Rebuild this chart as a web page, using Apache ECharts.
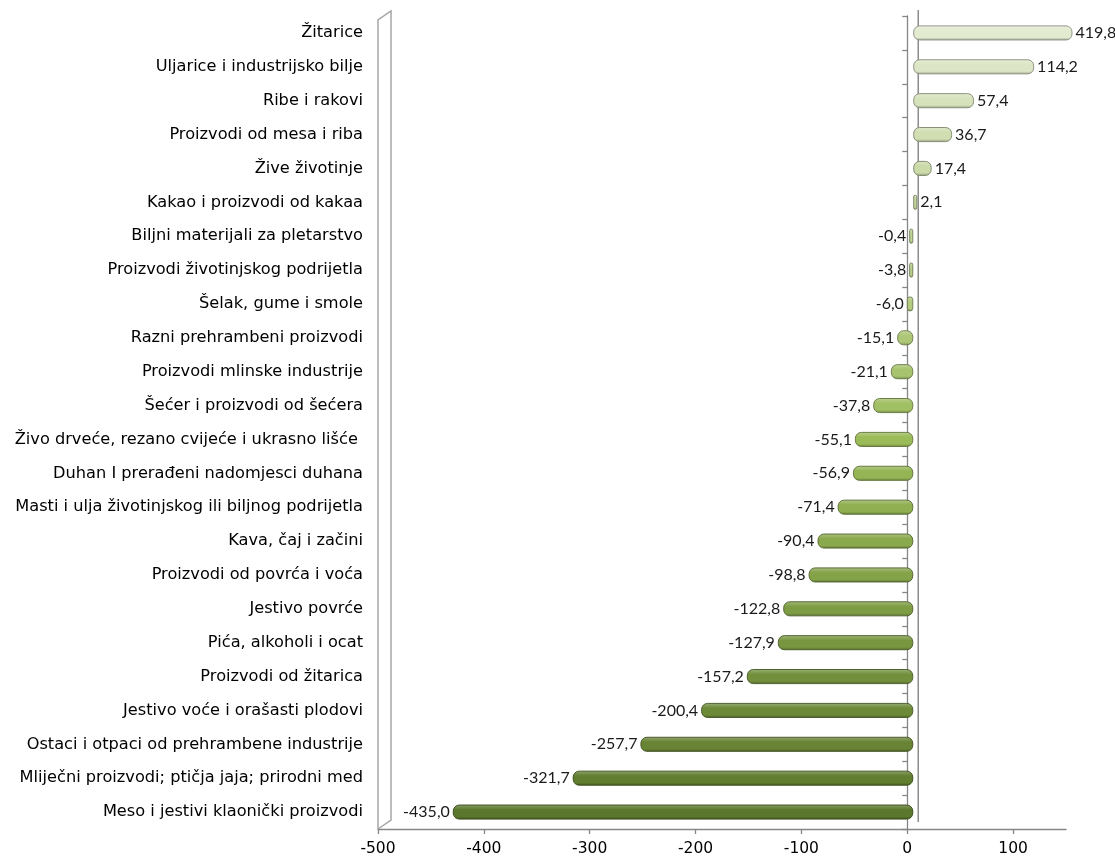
<!DOCTYPE html>
<html>
<head>
<meta charset="utf-8">
<script src="https://cdn.jsdelivr.net/npm/echarts@6/dist/echarts.min.js"></script>
<style>
  html, body { margin: 0; padding: 0; background: #ffffff; }
  #chart { width: 1115px; height: 859px; }
</style>
</head>
<body>
<div id="chart"></div>
<script>
// Trade balance by product group (top to bottom)
const categories = [
  'Žitarice',
  'Uljarice i industrijsko bilje',
  'Ribe i rakovi',
  'Proizvodi od mesa i riba',
  'Žive životinje',
  'Kakao i proizvodi od kakaa',
  'Biljni materijali za pletarstvo',
  'Proizvodi životinjskog podrijetla',
  'Šelak, gume i smole',
  'Razni prehrambeni proizvodi',
  'Proizvodi mlinske industrije',
  'Šećer i proizvodi od šećera',
  'Živo drveće, rezano cvijeće i ukrasno lišće ',
  'Duhan I prerađeni nadomjesci duhana',
  'Masti i ulja životinjskog ili biljnog podrijetla',
  'Kava, čaj i začini',
  'Proizvodi od povrća i voća',
  'Jestivo povrće',
  'Pića, alkoholi i ocat',
  'Proizvodi od žitarica',
  'Jestivo voće i orašasti plodovi',
  'Ostaci i otpaci od prehrambene industrije',
  'Mliječni proizvodi; ptičja jaja; prirodni med',
  'Meso i jestivi klaonički proizvodi'
];
const values = [
  419.8, 114.2, 57.4, 36.7, 17.4, 2.1, -0.4, -3.8, -6.0, -15.1, -21.1, -37.8,
  -55.1, -56.9, -71.4, -90.4, -98.8, -122.8, -127.9, -157.2, -200.4, -257.7,
  -321.7, -435.0
];
const xTicks = [-500, -400, -300, -200, -100, 0, 100];

// Shade ramp: pale green at the top, olive at the bottom
const LIGHT = '#e2ead0', MID = '#9bbb59', DARK = '#5b772b';
function hexToRgb(h) {
  const n = parseInt(h.slice(1), 16);
  return [(n >> 16) & 255, (n >> 8) & 255, n & 255];
}
function mix(a, b, t) {
  const A = hexToRgb(a), B = hexToRgb(b);
  const c = A.map((v, i) => Math.round(v + (B[i] - v) * t));
  return 'rgb(' + c.join(',') + ')';
}
function shade(rgb, f) {
  const c = rgb.match(/\d+/g).map(Number);
  const out = c.map(v => f >= 0 ? Math.round(v + (255 - v) * f) : Math.round(v * (1 + f)));
  return 'rgb(' + out.join(',') + ')';
}
function baseColor(i) {
  const n = categories.length - 1;
  const midIdx = 12;
  if (i <= midIdx) return mix(LIGHT, MID, i / midIdx);
  return mix(MID, DARK, (i - midIdx) / (n - midIdx));
}

const fmt = v => v.toFixed(1).replace('.', ',');

const barData = values.map((v, i) => {
  const c = baseColor(i);
  return {
    value: v,
    itemStyle: {
      color: new echarts.graphic.LinearGradient(0, 0, 0, 1, [
        { offset: 0, color: shade(c, 0.3) },
        { offset: 0.35, color: c },
        { offset: 0.8, color: c },
        { offset: 1, color: shade(c, -0.3) }
      ]),
      borderColor: shade(c, -0.4),
      borderWidth: 0.9,
      borderRadius: 6
    },
    label: { position: v >= 0 ? 'right' : 'left' }
  };
});

// Front frame (axes) and the slightly deeper plane the bars sit in
const GRID = { left: 378, right: 49, top: 16, bottom: 30 };
const DEPTH = 6;
const chart = echarts.init(document.getElementById('chart'), null, { renderer: 'canvas' });

const axisGray = { color: '#868686', width: 1.3 };

chart.setOption({
  animation: false,
  backgroundColor: '#ffffff',
  grid: [
    { left: GRID.left, right: GRID.right, top: GRID.top, bottom: GRID.bottom, containLabel: false },
    { left: GRID.left + DEPTH, right: GRID.right - DEPTH, top: GRID.top, bottom: GRID.bottom, containLabel: false }
  ],
  xAxis: [
    {
      type: 'value',
      gridIndex: 0,
      min: -500,
      max: 150,
      interval: 100,
      splitLine: { show: false },
      axisLine: { show: true, onZero: false, lineStyle: axisGray },
      axisTick: { show: true, length: 5, customValues: xTicks, lineStyle: axisGray },
      axisLabel: {
        customValues: xTicks,
        color: '#000000',
        fontFamily: 'DejaVu Sans, sans-serif',
        fontSize: 15.5,
        margin: 12,
        formatter: v => String(v)
      }
    },
    {
      type: 'value',
      gridIndex: 1,
      min: -500,
      max: 150,
      interval: 100,
      show: false
    }
  ],
  yAxis: [
    {
      // category names on the left
      type: 'category',
      gridIndex: 0,
      data: categories,
      inverse: true,
      position: 'left',
      axisLine: { show: false },
      axisTick: { show: false },
      splitLine: { show: false },
      axisLabel: {
        color: '#000000',
        fontFamily: 'DejaVu Sans, sans-serif',
        fontSize: 16.2,
        margin: 15
      }
    },
    {
      // axis line through zero with its tick marks
      type: 'category',
      gridIndex: 0,
      data: categories,
      inverse: true,
      position: 'left',
      axisLine: { show: true, onZero: true, onZeroAxisIndex: 0, lineStyle: axisGray },
      axisTick: { show: true, length: 5, lineStyle: axisGray },
      axisLabel: { show: false },
      splitLine: { show: false }
    },
    {
      type: 'category',
      gridIndex: 1,
      data: categories,
      inverse: true,
      show: false
    }
  ],
  series: [{
    type: 'bar',
    xAxisIndex: 1,
    yAxisIndex: 2,
    data: barData,
    barWidth: 15,
    barMinHeight: 4,
    clip: true,
    label: {
      show: true,
      distance: 3,
      color: '#1a1a1a',
      fontFamily: 'Lato, Open Sans, sans-serif',
      fontSize: 16,
      formatter: p => fmt(p.value)
    }
  }]
});

// Side wall panel and back-wall zero line of the pseudo-3D frame
const plotTop = GRID.top;
const plotBottom = 859 - GRID.bottom;
const xMin = chart.convertToPixel({ xAxisIndex: 0 }, -500);
const xZero = chart.convertToPixel({ xAxisIndex: 0 }, 0);
chart.setOption({
  graphic: [
    {
      type: 'polyline',
      silent: true,
      shape: { points: [[xMin, plotBottom], [xMin, plotTop + 4], [xMin + 13, plotTop - 5], [xMin + 13, plotBottom - 9], [xMin, plotBottom]] },
      style: { stroke: '#a6a6a6', lineWidth: 1.5, fill: null },
      z: 1
    },
    {
      type: 'line',
      silent: true,
      shape: { x1: xZero + 11, y1: plotTop - 6, x2: xZero + 11, y2: plotBottom - 7 },
      style: { stroke: '#8c8c8c', lineWidth: 1.5 },
      z: 1
    }
  ]
});
</script>
</body>
</html>
